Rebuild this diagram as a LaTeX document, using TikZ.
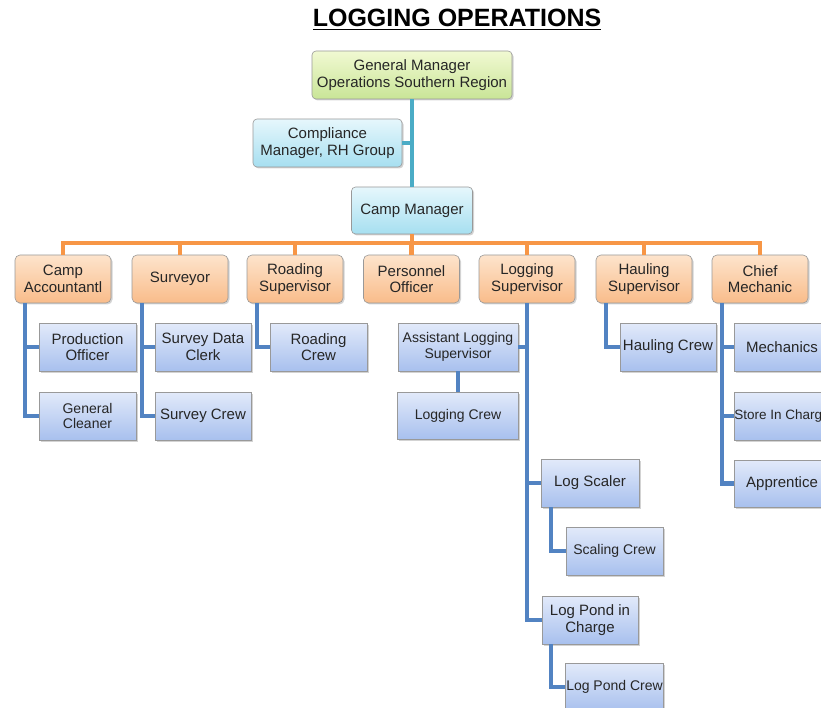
\documentclass[tikz,border=0pt]{standalone}
\usepackage{fontspec}
\setmainfont{Liberation Sans}
\usetikzlibrary{shadows}
\definecolor{gmtop}{HTML}{F1F9D2}
\definecolor{gmbot}{HTML}{C9E597}
\definecolor{cytop}{HTML}{E6F7FC}
\definecolor{cybot}{HTML}{A6DFF0}
\definecolor{ortop}{HTML}{FDE4CC}
\definecolor{orbot}{HTML}{F9BC8A}
\definecolor{bltop}{HTML}{E2EAFA}
\definecolor{blbot}{HTML}{A8C0EE}
\definecolor{tealln}{HTML}{4BACC6}
\definecolor{orangeln}{HTML}{F79646}
\definecolor{blueln}{HTML}{5283C2}
\newcommand\thickunder[1]{\setbox0\hbox{#1}\rlap{\rule[-3.5pt]{\wd0}{1.8pt}}\box0}
\begin{document}
\begin{tikzpicture}[x=1pt, y=-1pt,
	box/.style={draw=black!40, line width=0.6pt, align=center, inner sep=1pt, minimum height=48pt,
		font=\fontsize{15}{16.5}\selectfont, text=black!85,
		drop shadow={shadow xshift=1.5pt, shadow yshift=-1.5pt, opacity=0.35}},
	small/.style={font=\fontsize{14}{15.5}\selectfont},
	gmbox/.style={box, rounded corners=4pt, top color=gmtop, bottom color=gmbot},
	cybox/.style={box, rounded corners=4pt, top color=cytop, bottom color=cybot},
	headbox/.style={box, rounded corners=5pt, minimum width=96pt, top color=ortop, bottom color=orbot},
	crewbox/.style={box, minimum width=97pt, top color=bltop, bottom color=blbot},
	tealline/.style={draw=tealln, line width=4.5pt},
	orangeline/.style={draw=orangeln, line width=4.5pt},
	blueline/.style={draw=blueln, line width=4.5pt}]
	\useasboundingbox (0,0) rectangle (821,708);
	\node[font=\fontsize{25}{30}\selectfont\bfseries] (title) at (457,20) {\thickunder{LOGGING OPERATIONS}};

	% top of the chart
	\node[gmbox, minimum width=200pt] (gm) at (412,75) {General Manager\\Operations Southern Region};
	\node[cybox, minimum width=149pt] (comp) at (327.5,143) {Compliance\\Manager, RH Group};
	\node[cybox, minimum width=121pt, minimum height=47pt] (camp) at (412,210.5) {Camp Manager};
	\draw[tealline] (gm) -- (camp);
	\draw[tealline] (gm.south) |- (comp.east);

	% heads of section
	\coordinate (bus) at (412,243);
	\draw[orangeline] (camp) -- (bus);
	\foreach \n/\x/\t in {acct/63/{Camp\\Accountantl}, surv/180/{Surveyor}, road/295/{Roading\\Supervisor},
		pers/411.5/{Personnel\\Officer}, logsup/527/{Logging\\Supervisor}, haul/644/{Hauling\\Supervisor},
		chief/760/{Chief\\Mechanic}}{
		\node[headbox] (\n) at (\x,279) {\t};
		\draw[orangeline] (bus) -| (\n.north);
	}

	% crews
	\node[crewbox] (prod) at (87.5,347) {Production\\Officer};
	\node[crewbox, small] (clean) at (87.5,416) {General\\Cleaner};
	\node[crewbox, minimum width=96pt] (sdc) at (203,347) {Survey Data\\Clerk};
	\node[crewbox, minimum width=96pt] (screw) at (203,416) {Survey Crew};
	\node[crewbox] (rcrew) at (318.5,347) {Roading\\Crew};
	\node[crewbox, small, minimum width=120pt] (asst) at (458,347) {Assistant Logging\\Supervisor};
	\node[crewbox, small, minimum width=121pt, minimum height=47pt] (logcrew) at (458,415.5) {Logging Crew};
	\node[crewbox, minimum width=98pt] (scaler) at (590,483) {Log Scaler};
	\node[crewbox, small] (scalecrew) at (614.5,551) {Scaling Crew};
	\node[crewbox, minimum width=96pt] (pond) at (590,620) {Log Pond in\\Charge};
	\node[crewbox, small] (pondcrew) at (614.5,687) {Log Pond Crew};
	\node[crewbox, minimum width=96pt] (hcrew) at (668,347) {Hauling Crew};
	\node[crewbox, minimum width=96pt] (mech) at (782,347) {Mechanics};
	\node[crewbox, minimum width=96pt, font=\fontsize{13.5}{15}\selectfont] (store) at (782,416) {\makebox[90pt]{Store In Charge}};
	\node[crewbox, minimum width=96pt, minimum height=47pt] (appr) at (782,483.5) {Apprentice};

	\foreach \h/\c in {acct/prod, acct/clean, surv/sdc, surv/screw, road/rcrew, haul/hcrew,
		chief/mech, chief/store, chief/appr}
		\draw[blueline] ([xshift=-38pt]\h.south) |- (\c.west);
	\draw[blueline] (logsup.south) |- (asst.east);
	\foreach \c in {scaler, pond}
		\draw[blueline] (logsup.south) |- (\c.west);
	\draw[blueline] (asst) -- (logcrew);
	\draw[blueline] ([xshift=-39pt]scaler.south) |- (scalecrew.west);
	\draw[blueline] ([xshift=-39pt]pond.south) |- (pondcrew.west);
\end{tikzpicture}
\end{document}
